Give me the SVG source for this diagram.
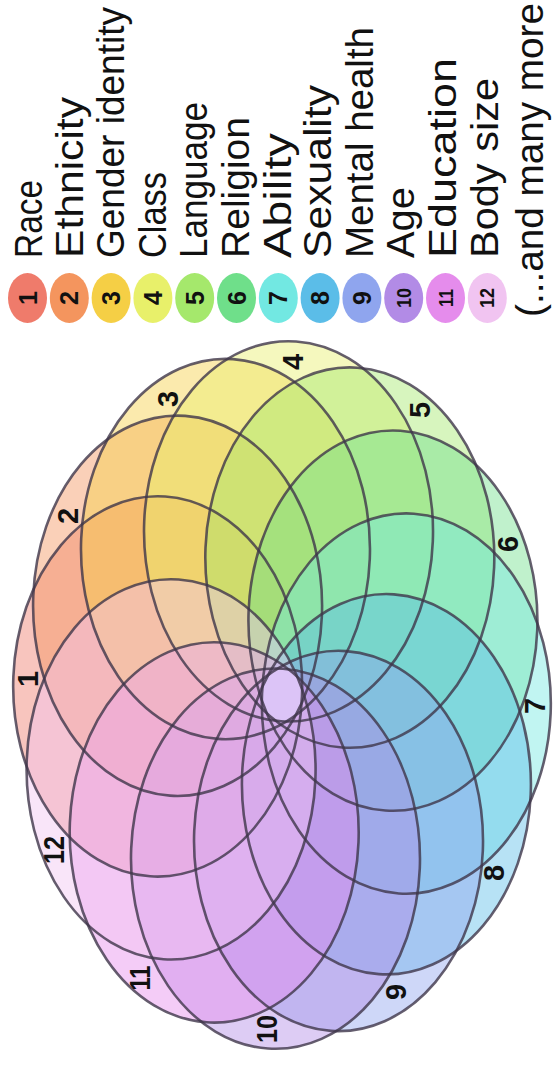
<svg xmlns="http://www.w3.org/2000/svg" width="559" height="1066" viewBox="0 0 559 1066">
  <style>
    .fill { fill-opacity: 0.44; stroke: none; }
    .ring { fill: none; stroke: #3e364a; stroke-opacity: 0.8; stroke-width: 2.6; vector-effect: non-scaling-stroke; }
    .num { font-family: "Liberation Sans", Arial, sans-serif; font-weight: bold; font-size: 29px; fill: #111; text-anchor: middle; dominant-baseline: central; }
    .lnum { font-family: "Liberation Sans", Arial, sans-serif; font-weight: bold; font-size: 25px; fill: #111; text-anchor: middle; dominant-baseline: central; }
    .lnum2 { font-size: 20px; }
    .lbl { font-family: "Liberation Sans", Arial, sans-serif; font-size: 38px; fill: #111; }
    .c1 { fill: #ef7b6b; } .c2 { fill: #f4955e; } .c3 { fill: #f5cf45; } .c4 { fill: #e8f06a; }
    .c5 { fill: #a5e86c; } .c6 { fill: #6fdf8a; } .c7 { fill: #72e8e2; } .c8 { fill: #5bbde8; }
    .c9 { fill: #8fa5ee; } .c10 { fill: #b28be6; } .c11 { fill: #e58cec; } .c12 { fill: #f1c4f1; }
  </style>
  <rect width="559" height="1066" fill="#ffffff"/>

  <!-- Flower fills -->
  <g id="flower-fills" transform="translate(282,695) scale(1,1.316) rotate(3)">
    <circle class="fill c1" cx="-124.5" cy="0" r="144.5"/>
    <circle class="fill c2" cx="-107.82" cy="-62.25" r="144.5"/>
    <circle class="fill c3" cx="-62.25" cy="-107.82" r="144.5"/>
    <circle class="fill c4" cx="0" cy="-124.5" r="144.5"/>
    <circle class="fill c5" cx="62.25" cy="-107.82" r="144.5"/>
    <circle class="fill c6" cx="107.82" cy="-62.25" r="144.5"/>
    <circle class="fill c7" cx="124.5" cy="0" r="144.5"/>
    <circle class="fill c8" cx="107.82" cy="62.25" r="144.5"/>
    <circle class="fill c9" cx="62.25" cy="107.82" r="144.5"/>
    <circle class="fill c10" cx="0" cy="124.5" r="144.5"/>
    <circle class="fill c11" cx="-62.25" cy="107.82" r="144.5"/>
    <circle class="fill c12" cx="-107.82" cy="62.25" r="144.5"/>
    <circle cx="0" cy="0" r="20" fill="#dcc4f7"/>
  </g>

  <!-- Flower set outlines (nodes) -->
  <g id="set-1"><circle class="ring" cx="-124.5" cy="0" r="144.5" transform="translate(282,695) scale(1,1.316) rotate(3)"/><text class="num" transform="translate(28,679) rotate(-90)">1</text></g>
  <g id="set-2"><circle class="ring" cx="-107.82" cy="-62.25" r="144.5" transform="translate(282,695) scale(1,1.316) rotate(3)"/><text class="num" transform="translate(68,516) rotate(-90)">2</text></g>
  <g id="set-3"><circle class="ring" cx="-62.25" cy="-107.82" r="144.5" transform="translate(282,695) scale(1,1.316) rotate(3)"/><text class="num" transform="translate(168,399) rotate(-90)">3</text></g>
  <g id="set-4"><circle class="ring" cx="0" cy="-124.5" r="144.5" transform="translate(282,695) scale(1,1.316) rotate(3)"/><text class="num" transform="translate(293,362) rotate(-90)">4</text></g>
  <g id="set-5"><circle class="ring" cx="62.25" cy="-107.82" r="144.5" transform="translate(282,695) scale(1,1.316) rotate(3)"/><text class="num" transform="translate(420,410) rotate(-90)">5</text></g>
  <g id="set-6"><circle class="ring" cx="107.82" cy="-62.25" r="144.5" transform="translate(282,695) scale(1,1.316) rotate(3)"/><text class="num" transform="translate(508,544) rotate(-90)">6</text></g>
  <g id="set-7"><circle class="ring" cx="124.5" cy="0" r="144.5" transform="translate(282,695) scale(1,1.316) rotate(3)"/><text class="num" transform="translate(535,706) rotate(-90)">7</text></g>
  <g id="set-8"><circle class="ring" cx="107.82" cy="62.25" r="144.5" transform="translate(282,695) scale(1,1.316) rotate(3)"/><text class="num" transform="translate(494,873) rotate(-90)">8</text></g>
  <g id="set-9"><circle class="ring" cx="62.25" cy="107.82" r="144.5" transform="translate(282,695) scale(1,1.316) rotate(3)"/><text class="num" transform="translate(396,992) rotate(-90)">9</text></g>
  <g id="set-10"><circle class="ring" cx="0" cy="124.5" r="144.5" transform="translate(282,695) scale(1,1.316) rotate(3)"/><text class="num" transform="translate(267,1029) rotate(-90)" textLength="28" lengthAdjust="spacingAndGlyphs">10</text></g>
  <g id="set-11"><circle class="ring" cx="-62.25" cy="107.82" r="144.5" transform="translate(282,695) scale(1,1.316) rotate(3)"/><text class="num" transform="translate(140,978) rotate(-90)" textLength="25" lengthAdjust="spacingAndGlyphs">11</text></g>
  <g id="set-12"><circle class="ring" cx="-107.82" cy="62.25" r="144.5" transform="translate(282,695) scale(1,1.316) rotate(3)"/><text class="num" transform="translate(54,850) rotate(-90)" textLength="28" lengthAdjust="spacingAndGlyphs">12</text></g>

  <g id="connectors"/>

  <!-- Legend -->
  <g id="legend-1"><ellipse class="c1" cx="27.5" cy="298" rx="19.5" ry="25"/><text class="lnum" transform="translate(27.5,298) rotate(-90)">1</text><text class="lbl" transform="translate(42,258) rotate(-90)" textLength="78" lengthAdjust="spacingAndGlyphs">Race</text></g>
  <g id="legend-2"><ellipse class="c2" cx="69.3" cy="298" rx="19.5" ry="25"/><text class="lnum" transform="translate(69.3,298) rotate(-90)">2</text><text class="lbl" transform="translate(83,258) rotate(-90)" textLength="161" lengthAdjust="spacingAndGlyphs">Ethnicity</text></g>
  <g id="legend-3"><ellipse class="c3" cx="111.1" cy="298" rx="19.5" ry="25"/><text class="lnum" transform="translate(111.1,298) rotate(-90)">3</text><text class="lbl" transform="translate(124,258) rotate(-90)" textLength="251" lengthAdjust="spacingAndGlyphs">Gender identity</text></g>
  <g id="legend-4"><ellipse class="c4" cx="152.9" cy="298" rx="19.5" ry="25"/><text class="lnum" transform="translate(152.9,298) rotate(-90)">4</text><text class="lbl" transform="translate(166,258) rotate(-90)" textLength="86" lengthAdjust="spacingAndGlyphs">Class</text></g>
  <g id="legend-5"><ellipse class="c5" cx="194.7" cy="298" rx="19.5" ry="25"/><text class="lnum" transform="translate(194.7,298) rotate(-90)">5</text><text class="lbl" transform="translate(207,258) rotate(-90)" textLength="156" lengthAdjust="spacingAndGlyphs">Language</text></g>
  <g id="legend-6"><ellipse class="c6" cx="236.5" cy="298" rx="19.5" ry="25"/><text class="lnum" transform="translate(236.5,298) rotate(-90)">6</text><text class="lbl" transform="translate(249,258) rotate(-90)" textLength="141" lengthAdjust="spacingAndGlyphs">Religion</text></g>
  <g id="legend-7"><ellipse class="c7" cx="278.3" cy="298" rx="19.5" ry="25"/><text class="lnum" transform="translate(278.3,298) rotate(-90)">7</text><text class="lbl" transform="translate(291,258) rotate(-90)" textLength="125" lengthAdjust="spacingAndGlyphs">Ability</text></g>
  <g id="legend-8"><ellipse class="c8" cx="320.1" cy="298" rx="19.5" ry="25"/><text class="lnum" transform="translate(320.1,298) rotate(-90)">8</text><text class="lbl" transform="translate(331,258) rotate(-90)" textLength="173" lengthAdjust="spacingAndGlyphs">Sexuality</text></g>
  <g id="legend-9"><ellipse class="c9" cx="361.9" cy="298" rx="19.5" ry="25"/><text class="lnum" transform="translate(361.9,298) rotate(-90)">9</text><text class="lbl" transform="translate(373,258) rotate(-90)" textLength="231" lengthAdjust="spacingAndGlyphs">Mental health</text></g>
  <g id="legend-10"><ellipse class="c10" cx="403.7" cy="298" rx="19.5" ry="25"/><text class="lnum lnum2" transform="translate(403.7,298) rotate(-90)" textLength="20" lengthAdjust="spacingAndGlyphs">10</text><text class="lbl" transform="translate(414,258) rotate(-90)" textLength="71" lengthAdjust="spacingAndGlyphs">Age</text></g>
  <g id="legend-11"><ellipse class="c11" cx="445.5" cy="298" rx="19.5" ry="25"/><text class="lnum lnum2" transform="translate(445.5,298) rotate(-90)" textLength="18" lengthAdjust="spacingAndGlyphs">11</text><text class="lbl" transform="translate(456,258) rotate(-90)" textLength="200" lengthAdjust="spacingAndGlyphs">Education</text></g>
  <g id="legend-12"><ellipse class="c12" cx="487.3" cy="298" rx="19.5" ry="25"/><text class="lnum lnum2" transform="translate(487.3,298) rotate(-90)" textLength="20" lengthAdjust="spacingAndGlyphs">12</text><text class="lbl" transform="translate(498,258) rotate(-90)" textLength="180" lengthAdjust="spacingAndGlyphs">Body size</text></g>
  <g id="legend-more"><text class="lbl" transform="translate(543,317) rotate(-90)" textLength="314" lengthAdjust="spacingAndGlyphs">(...and many more</text></g>
</svg>
